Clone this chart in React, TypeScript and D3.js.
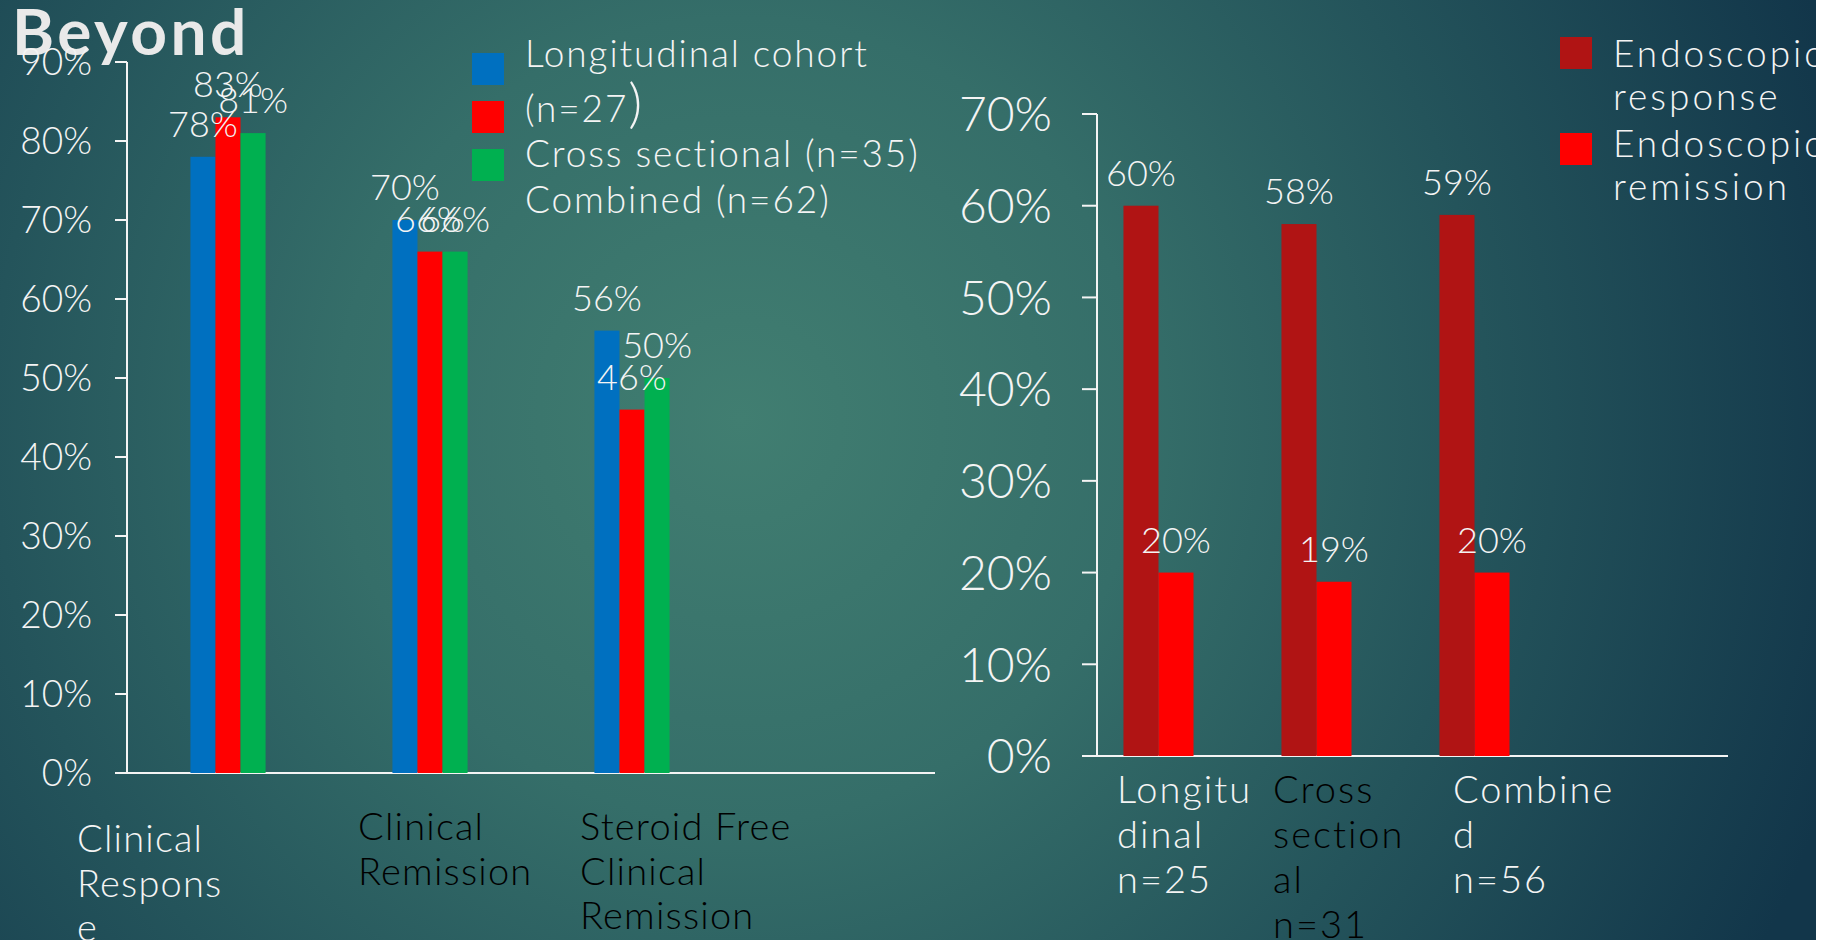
import React from "react";
import * as d3 from "d3";

// ---------- data ----------
const leftCategories = ["Clinical Response", "Clinical Remission", "Steroid Free Clinical Remission"];
const leftSeries = ["Longitudinal cohort (n=27)", "Cross sectional (n=35)", "Combined (n=62)"];
const longitudinalValues = [0.78, 0.70, 0.56];
const crossSectionalValues = [0.83, 0.66, 0.46];
const combinedValues = [0.81, 0.66, 0.50];
const leftTicks = [0, 0.1, 0.2, 0.3, 0.4, 0.5, 0.6, 0.7, 0.8, 0.9];

const rightCategories = ["Longitudinal n=25", "Cross sectional n=31", "Combined n=56"];
const rightSeries = ["Endoscopic response", "Endoscopic remission"];
const endoResponseValues = [0.60, 0.58, 0.59];
const endoRemissionValues = [0.20, 0.19, 0.20];
const rightTicks = [0, 0.1, 0.2, 0.3, 0.4, 0.5, 0.6, 0.7];

// ---------- styling / layout ----------
const W = 1836;
const H = 940;
const FONT = "Lato, 'Open Sans', 'DejaVu Sans', sans-serif";
const WHITE = "#f4f4f4";
const leftColors = ["#0070c0", "#ff0000", "#00b050"];
const rightColors = ["#b01414", "#ff0000"];

// wrapped category label lines as displayed (text wrapping of the original)
const leftCatLines = [["Clinical", "Respons", "e"], ["Clinical", "Remission"], ["Steroid Free", "Clinical", "Remission"]];
const leftCatFill = [WHITE, "#000000", "#000000"];
const leftCatDx = [-50, 29, 49];
const leftCatY = [852, 840, 840];
const rightCatLines = [["Longitu", "dinal", "n=25"], ["Cross", "section", "al", "n=31"], ["Combine", "d", "n=56"]];
const rightCatFill = [WHITE, "#000000", WHITE];
const rightCatDx = [20, 18, 40];

export default function App() {
  const pct = (v: number) => `${Math.round(v * 100)}%`;

  // Left chart scales
  const lx = d3.scaleBand<string>().domain([...leftCategories, "__empty"]).range([127, 935]);
  const ly = d3.scaleLinear().domain([0, 0.9]).range([773, 62]);
  const lGroupW = lx.bandwidth() * 0.372;
  const lInner = d3.scaleBand<number>().domain([0, 1, 2]).range([0, lGroupW]);
  const leftData = [longitudinalValues, crossSectionalValues, combinedValues];

  // Right chart scales
  const rx = d3.scaleBand<string>().domain([...rightCategories, "__empty"]).range([1097, 1729]);
  const ry = d3.scaleLinear().domain([0, 0.7]).range([756, 114]);
  const rGroupW = rx.bandwidth() * 0.665;
  const rInner = d3.scaleBand<number>().domain([0, 1, 2]).range([0, rGroupW]);
  const rightData = [endoResponseValues, endoRemissionValues];

  const legendLeftBaselines = [67, 122, 167, 213];

  return (
    <svg
      width={W}
      height={H}
      viewBox={`0 0 ${W} ${H}`}
      style={{ position: "absolute", left: 0, top: 0, display: "block" }}
      fontFamily={FONT}
    >
      <defs>
        <radialGradient id="bg" gradientUnits="userSpaceOnUse" cx={740} cy={420} r={1150}>
          <stop offset="0" stopColor="#417e71" />
          <stop offset="0.35" stopColor="#356e69" />
          <stop offset="0.65" stopColor="#24545b" />
          <stop offset="1" stopColor="#12364a" />
        </radialGradient>
        <clipPath id="slide">
          <rect x={0} y={0} width={1816} height={H} />
        </clipPath>
      </defs>
      <rect x={0} y={0} width={W} height={H} fill="#ffffff" />
      <g clipPath="url(#slide)">
        <rect x={0} y={0} width={1816} height={H} fill="url(#bg)" />

        {/* Title */}
        <text x={12} y={55} fontSize={64} fontWeight={700} fill="#e9e9e9" letterSpacing={3.5}>Beyond</text>

        {/* ---------- Left chart ---------- */}
        <g>
          {leftTicks.map((t) => (
            <g key={t}>
              <line x1={115} x2={127} y1={ly(t)} y2={ly(t)} stroke={WHITE} strokeWidth={2} />
              <text x={92} y={ly(t)} dy="0.36em" textAnchor="end" fontSize={37} fontWeight={300} fill={WHITE}>
                {pct(t)}
              </text>
            </g>
          ))}
          <line x1={127} x2={127} y1={ly(0.9)} y2={ly(0)} stroke={WHITE} strokeWidth={2} />
          <line x1={115} x2={935} y1={ly(0)} y2={ly(0)} stroke={WHITE} strokeWidth={2} />

          {leftCategories.map((c, ci) => {
            const x0 = (lx(c) as number) + lx.bandwidth() / 2 - lGroupW / 2;
            return (
              <g key={c}>
                {leftData.map((vals, si) => (
                  <rect
                    key={si}
                    x={x0 + (lInner(si) as number)}
                    y={ly(vals[ci])}
                    width={lInner.bandwidth()}
                    height={ly(0) - ly(vals[ci])}
                    fill={leftColors[si]}
                  />
                ))}
              </g>
            );
          })}
          {leftCategories.map((c, ci) => {
            const x0 = (lx(c) as number) + lx.bandwidth() / 2 - lGroupW / 2;
            return (
              <g key={c + "l"}>
                {leftData.map((vals, si) => (
                  <text
                    key={si}
                    x={x0 + (lInner(si) as number) + lInner.bandwidth() / 2}
                    y={ly(vals[ci]) - 20}
                    textAnchor="middle"
                    fontSize={36}
                    fontWeight={300}
                    fill={WHITE}
                  >
                    {pct(vals[ci])}
                  </text>
                ))}
              </g>
            );
          })}

          {leftCategories.map((c, ci) => (
            <text
              key={c + "cat"}
              x={(lx(c) as number) + leftCatDx[ci]}
              y={leftCatY[ci]}
              fontSize={38}
              fontWeight={300}
              letterSpacing={1.2}
              fill={leftCatFill[ci]}
            >
              {leftCatLines[ci].map((ln, li) => (
                <tspan key={li} x={(lx(c) as number) + leftCatDx[ci]} dy={li === 0 ? 0 : 44.5}>
                  {ln}
                </tspan>
              ))}
            </text>
          ))}

          {/* Legend */}
          {leftSeries.map((s, si) => (
            <rect key={s} x={472} y={53 + si * 48} width={32} height={32} fill={leftColors[si]} />
          ))}
          <g fontSize={37} fontWeight={300} fill={WHITE} letterSpacing={1.9}>
            <text x={525} y={legendLeftBaselines[0]}>{leftSeries[0].split(" (")[0]}</text>
            <text x={525} y={legendLeftBaselines[1]}>
              {"(" + leftSeries[0].split(" (")[1].replace(")", "")}
              <tspan fontSize={54}>)</tspan>
            </text>
            <text x={525} y={legendLeftBaselines[2]}>{leftSeries[1]}</text>
            <text x={525} y={legendLeftBaselines[3]}>{leftSeries[2]}</text>
          </g>
        </g>

        {/* ---------- Right chart ---------- */}
        <g>
          {rightTicks.map((t) => (
            <g key={t}>
              <line x1={1082} x2={1097} y1={ry(t)} y2={ry(t)} stroke={WHITE} strokeWidth={2} />
              <text x={1052} y={ry(t)} dy="0.36em" textAnchor="end" fontSize={48} fontWeight={300} fill={WHITE}>
                {pct(t)}
              </text>
            </g>
          ))}
          <line x1={1097} x2={1097} y1={ry(0.7)} y2={ry(0)} stroke={WHITE} strokeWidth={2} />
          <line x1={1082} x2={1728} y1={ry(0)} y2={ry(0)} stroke={WHITE} strokeWidth={2} />

          {rightCategories.map((c, ci) => {
            const x0 = (rx(c) as number) + rx.bandwidth() / 2 - rGroupW / 2;
            return (
              <g key={c}>
                {rightData.map((vals, si) => (
                  <rect
                    key={si}
                    x={x0 + (rInner(si) as number)}
                    y={ry(vals[ci])}
                    width={rInner.bandwidth()}
                    height={ry(0) - ry(vals[ci])}
                    fill={rightColors[si]}
                  />
                ))}
                {rightData.map((vals, si) => (
                  <text
                    key={"t" + si}
                    x={x0 + (rInner(si) as number) + rInner.bandwidth() / 2}
                    y={ry(vals[ci]) - 20}
                    textAnchor="middle"
                    fontSize={36}
                    fontWeight={300}
                    fill={WHITE}
                  >
                    {pct(vals[ci])}
                  </text>
                ))}
              </g>
            );
          })}

          {rightCategories.map((c, ci) => (
            <text key={c + "cat"} y={803} fontSize={38} fontWeight={300} letterSpacing={2} fill={rightCatFill[ci]}>
              {rightCatLines[ci].map((ln, li) => (
                <tspan key={li} x={(rx(c) as number) + rightCatDx[ci]} dy={li === 0 ? 0 : 45}>
                  {ln}
                </tspan>
              ))}
            </text>
          ))}

          {/* Legend */}
          {rightSeries.map((s, si) => {
            const words = s.split(" ");
            return (
              <g key={s}>
                <rect x={1560} y={37 + si * 96} width={32} height={32} fill={rightColors[si]} />
                <text x={1613} y={67 + si * 90} fontSize={37} fontWeight={300} letterSpacing={3} fill={WHITE}>
                  {words[0]}
                </text>
                <text x={1613} y={110 + si * 90} fontSize={37} fontWeight={300} letterSpacing={3} fill={WHITE}>
                  {words[1]}
                </text>
              </g>
            );
          })}
        </g>
      </g>
    </svg>
  );
}
